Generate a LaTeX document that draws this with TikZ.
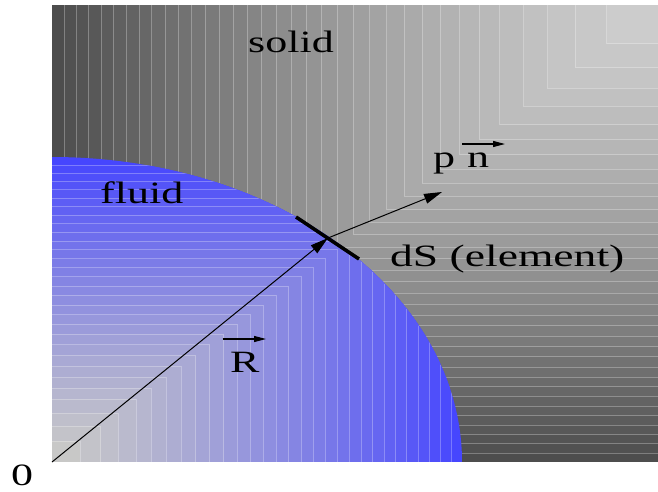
\documentclass[tikz,border=0pt]{standalone}
\usepackage{fontspec}
\setmainfont{Liberation Serif}
\usetikzlibrary{arrows.meta,calc}
\newcommand\stretchtxt[1]{\scalebox{1.42}[1]{#1}}
\begin{document}
\begin{tikzpicture}[x=1pt,y=-1pt,
  lbl/.style={anchor=base west,inner sep=0pt,font=\fontsize{31}{36}\selectfont},
  vec/.style={line width=1pt,-{Triangle[length=18pt,width=10pt]}},
  ovec/.style={line width=1.2pt,-{Triangle[length=12pt,width=6pt]}},
  elem/.style={line width=3.5pt},
  bandline/.style={draw=white,draw opacity=0.28,line width=0.7pt}]
\useasboundingbox (0,0) rectangle (658,491);
% solid region: stepped rectangular shading from the top right corner
\foreach \k in {35,34,...,1} {
  \pgfmathsetmacro\t{pow(\k/35,1/1.44)}
  \pgfmathtruncatemacro\c{round(206-131*(\k-0.5)/35)}
  \fill[fill={rgb,255:red,\c;green,\c;blue,\c}] ({658-606*\t},5) rectangle (658,{5+457*\t});
}
\foreach \k in {34,33,...,1} {
  \pgfmathsetmacro\t{pow(\k/35,1/1.44)}
  \draw[bandline] ({658-606*\t},5) -- ({658-606*\t},{5+457*\t}) -- (658,{5+457*\t});
}
% fluid region: stepped shading from the origin, clipped to the ellipse
\begin{scope}
  \clip (52,462) ellipse [x radius=410pt, y radius=305pt];
  \foreach \k in {30,29,...,1} {
    \pgfmathsetmacro\t{pow(\k/30,1/1.26)}
    \pgfmathsetmacro\f{(\k-0.5)/30}
    \pgfmathtruncatemacro\r{round(202-134*\f)}
    \pgfmathtruncatemacro\b{round(198+57*\f)}
    \fill[fill={rgb,255:red,\r;green,\r;blue,\b}] (52,462) rectangle ({52+410*\t},{462-305*\t});
  }
  \foreach \k in {29,28,...,1} {
    \pgfmathsetmacro\t{pow(\k/30,1/1.26)}
    \draw[bandline] ({52+410*\t},462) -- ({52+410*\t},{462-305*\t}) -- (52,{462-305*\t});
  }
\end{scope}
% labels
\node[lbl] (solid) at (248,52) {\stretchtxt{solid}};
\node[lbl] (fluid) at (100,203) {\stretchtxt{fluid}};
\node[lbl] (dS) at (390,266) {\scalebox{1.47}[1]{dS (element)}};
\node[lbl] (p) at (433,167) {\stretchtxt{p}};
\node[lbl] (n) at (467,167) {\stretchtxt{n}};
\node[lbl] (R) at (230,372) {\stretchtxt{R}};
\node[lbl] (zero) at (11,485.5) {\stretchtxt{0}};
% geometry
\coordinate (O) at (52,462);
\coordinate (P) at (328,238);
\coordinate (N) at (442,192);
\coordinate (E1) at (296,217);
\coordinate (E2) at (359,259);
\coordinate (na1) at (462,144);
\coordinate (na2) at (505,144);
\coordinate (ra1) at (222.5,339);
\coordinate (ra2) at (266,339);
\draw[vec] (O) -- (P);
\draw[vec] (P) -- (N);
\draw[elem] (E1) -- (E2);
\draw[ovec] (na1) -- (na2);
\draw[ovec] (ra1) -- (ra2);
\end{tikzpicture}
\end{document}
